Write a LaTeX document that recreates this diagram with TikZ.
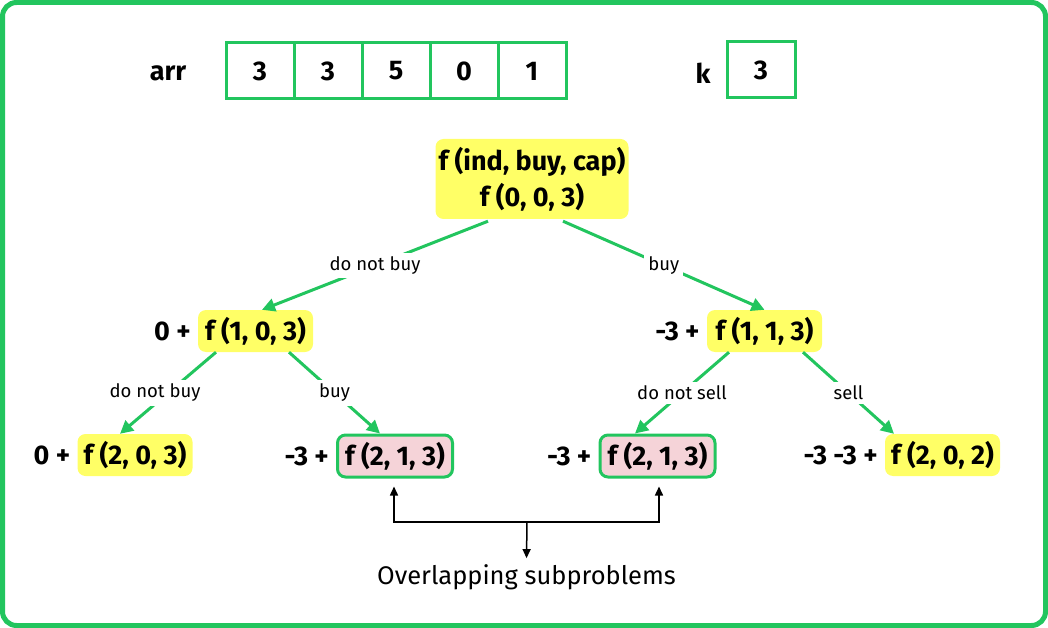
\documentclass[tikz,border=0pt]{standalone}
\usepackage{fontspec}
\setmainfont{Fira Sans}
\usetikzlibrary{positioning,arrows.meta}
\definecolor{framegreen}{HTML}{22C55E}
\definecolor{callyellow}{HTML}{FFFF66}
\definecolor{callpink}{HTML}{F5D3D8}

\begin{document}
\begin{tikzpicture}[x=1pt, y=-1pt,
  big/.style={font=\fontsize{27}{36}\selectfont\bfseries},
  cell/.style={big, draw=framegreen, line width=3, minimum width=68, minimum height=56, inner sep=0},
  call/.style={big, fill=callyellow, rounded corners=8, minimum width=115, minimum height=42, inner sep=2},
  repeated/.style={call, fill=callpink, draw=framegreen, line width=3},
  lead/.style={big, inner sep=0},
  branch/.style={framegreen, line width=3, -{Triangle[length=13pt, width=13pt]}},
  choice/.style={fill=white, text=black, font=\fontsize{18.5}{22}\selectfont, inner sep=4},
  bracket/.style={black, line width=1.5, {Triangle[length=9pt, width=8pt]}-{Triangle[length=9pt, width=8pt]}}]
\useasboundingbox (0,0) rectangle (1048,628);
\draw [framegreen, line width=5, rounded corners=14] (2.5,2.5) rectangle (1045.5,625.5);

\node [big] (arr) at (168, 73) {arr};
\foreach \v [count=\i] in {3,3,5,0,1}
  \node [cell] (a\i) at (226+34+68*\i-68, 71) {\v};
\node [big] (k) at (703, 73) {k};
\node [cell] (kval) at (761, 70) {3};

\node [call, minimum width=193, minimum height=80, align=center] (root) at (532, 179) {f (ind, buy, cap)\\f (0, 0, 3)};

\node [call] (l1) at (255.5, 331) {f (1, 0, 3)};
\node [lead, left=7pt of l1] (l1p) {0 +};
\node [call] (r1) at (764.5, 331) {f (1, 1, 3)};
\node [lead, left=7pt of r1] (r1p) {-3 +};

\node [call] (l2a) at (135, 455) {f (2, 0, 3)};
\node [lead, left=7pt of l2a] (l2ap) {0 +};
\node [repeated] (l2b) at (395, 456) {f (2, 1, 3)};
\node [lead, left=7pt of l2b] (l2bp) {-3 +};
\node [repeated] (r2a) at (657.5, 456) {f (2, 1, 3)};
\node [lead, left=7pt of r2a] (r2ap) {-3 +};
\node [call] (r2b) at (942.5, 455) {f (2, 0, 2)};
\node [lead, left=7pt of r2b] (r2bp) {-3 -3 +};

\draw [branch] ([xshift=-44pt, yshift=-2pt]root.south) -- node [choice] {do not buy} ([xshift=6.5pt]l1.north);
\draw [branch] ([xshift=31pt, yshift=-2pt]root.south) -- node [choice] {buy} (r1.north);
\draw [branch] ([xshift=-39.5pt]l1.south) -- node [choice, xshift=-13pt] {do not buy} ([xshift=-15pt]l2a.north);
\draw [branch] ([xshift=33.5pt]l1.south) -- node [choice] {buy} ([xshift=-15pt]l2b.north);
\draw [branch] ([xshift=-35.5pt]r1.south) -- node [choice] {do not sell} ([xshift=-22.5pt]r2a.north);
\draw [branch] ([xshift=38.5pt]r1.south) -- node [choice] {sell} ([xshift=-48.5pt]r2b.north);

\node [font=\fontsize{25.5}{30}\selectfont, inner sep=0] (note) at (526.5, 577) {Overlapping subproblems};
\coordinate (join) at (527, 522);
\draw [bracket] ([xshift=-1pt, yshift=-8pt]l2b.south) |- (join) -| ([xshift=1.5pt, yshift=-8pt]r2a.south);
\draw [black, line width=1.5, -{Triangle[length=9pt, width=8pt]}] (join) -- ([yshift=6pt]note.north);
\end{tikzpicture}
\end{document}
